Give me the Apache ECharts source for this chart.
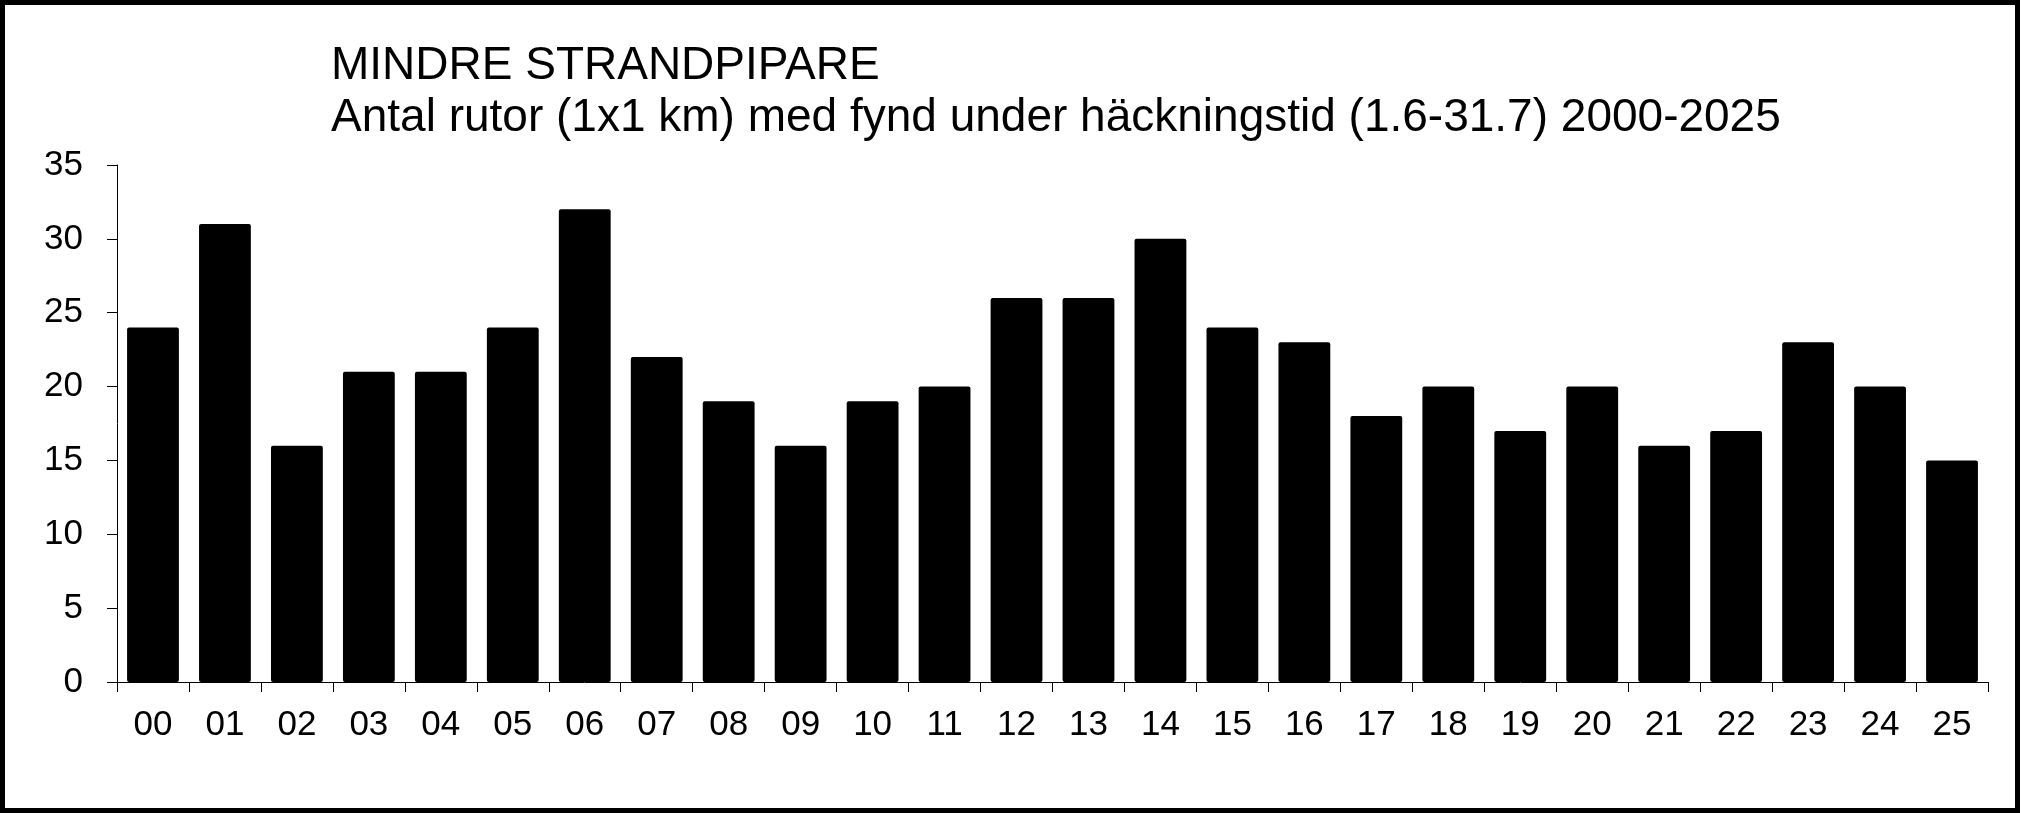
<!DOCTYPE html>
<html>
<head>
<meta charset="utf-8">
<script src="https://cdn.jsdelivr.net/npm/echarts@6/dist/echarts.min.js"></script>
<style>
  html, body { margin: 0; padding: 0; background: #fff; }
  #chart { width: 2021px; height: 813px; }
</style>
</head>
<body>
<div id="chart"></div>
<script>
// år (2000-2025)
var years = ['00', '01', '02', '03', '04', '05', '06', '07', '08', '09', '10', '11', '12',
  '13', '14', '15', '16', '17', '18', '19', '20', '21', '22', '23', '24', '25'];
// antal rutor med fynd
var counts = [24, 31, 16, 21, 21, 24, 32, 22, 19, 16, 19, 20, 26,
  26, 30, 24, 23, 18, 20, 17, 20, 16, 17, 23, 20, 15];
var yTicks = [0, 5, 10, 15, 20, 25, 30, 35];

var titleLines = ['MINDRE STRANDPIPARE',
  'Antal rutor (1x1 km) med fynd under häckningstid (1.6-31.7) 2000-2025'];

var font = "'Liberation Sans', Arial, sans-serif";

var myChart = echarts.init(document.getElementById('chart'));
myChart.setOption({
  backgroundColor: '#fff',
  animation: false,
  title: {
    text: titleLines.join('\n'),
    left: 331,
    top: 40,
    padding: 0,
    textStyle: {
      color: '#000',
      fontFamily: font,
      fontSize: 46,
      fontWeight: 'normal',
      lineHeight: 52
    }
  },
  grid: {
    left: 117,
    right: 33,
    top: 165,
    bottom: 131
  },
  xAxis: {
    type: 'category',
    data: years,
    boundaryGap: true,
    axisLine: { lineStyle: { color: '#000', width: 1 } },
    axisTick: { show: true, length: 10, alignWithLabel: false, lineStyle: { color: '#000' } },
    axisLabel: { color: '#000', fontFamily: font, fontSize: 35, margin: 26, interval: 0 },
    splitLine: { show: false }
  },
  yAxis: {
    type: 'value',
    min: yTicks[0],
    max: yTicks[yTicks.length - 1],
    interval: yTicks[1] - yTicks[0],
    axisLine: { show: true, lineStyle: { color: '#000', width: 1 } },
    axisTick: { show: true, length: 10, lineStyle: { color: '#000' } },
    axisLabel: { color: '#000', fontFamily: font, fontSize: 35, margin: 34 },
    splitLine: { show: false }
  },
  series: [{
    type: 'bar',
    data: counts,
    barCategoryGap: '28%',
    itemStyle: { color: '#000', borderRadius: 2 }
  }],
  graphic: [{
    type: 'rect',
    shape: { x: 2.5, y: 2.5, width: 2015, height: 808 },
    style: { fill: 'none', stroke: '#000', lineWidth: 5 },
    silent: true
  }]
});
</script>
</body>
</html>
